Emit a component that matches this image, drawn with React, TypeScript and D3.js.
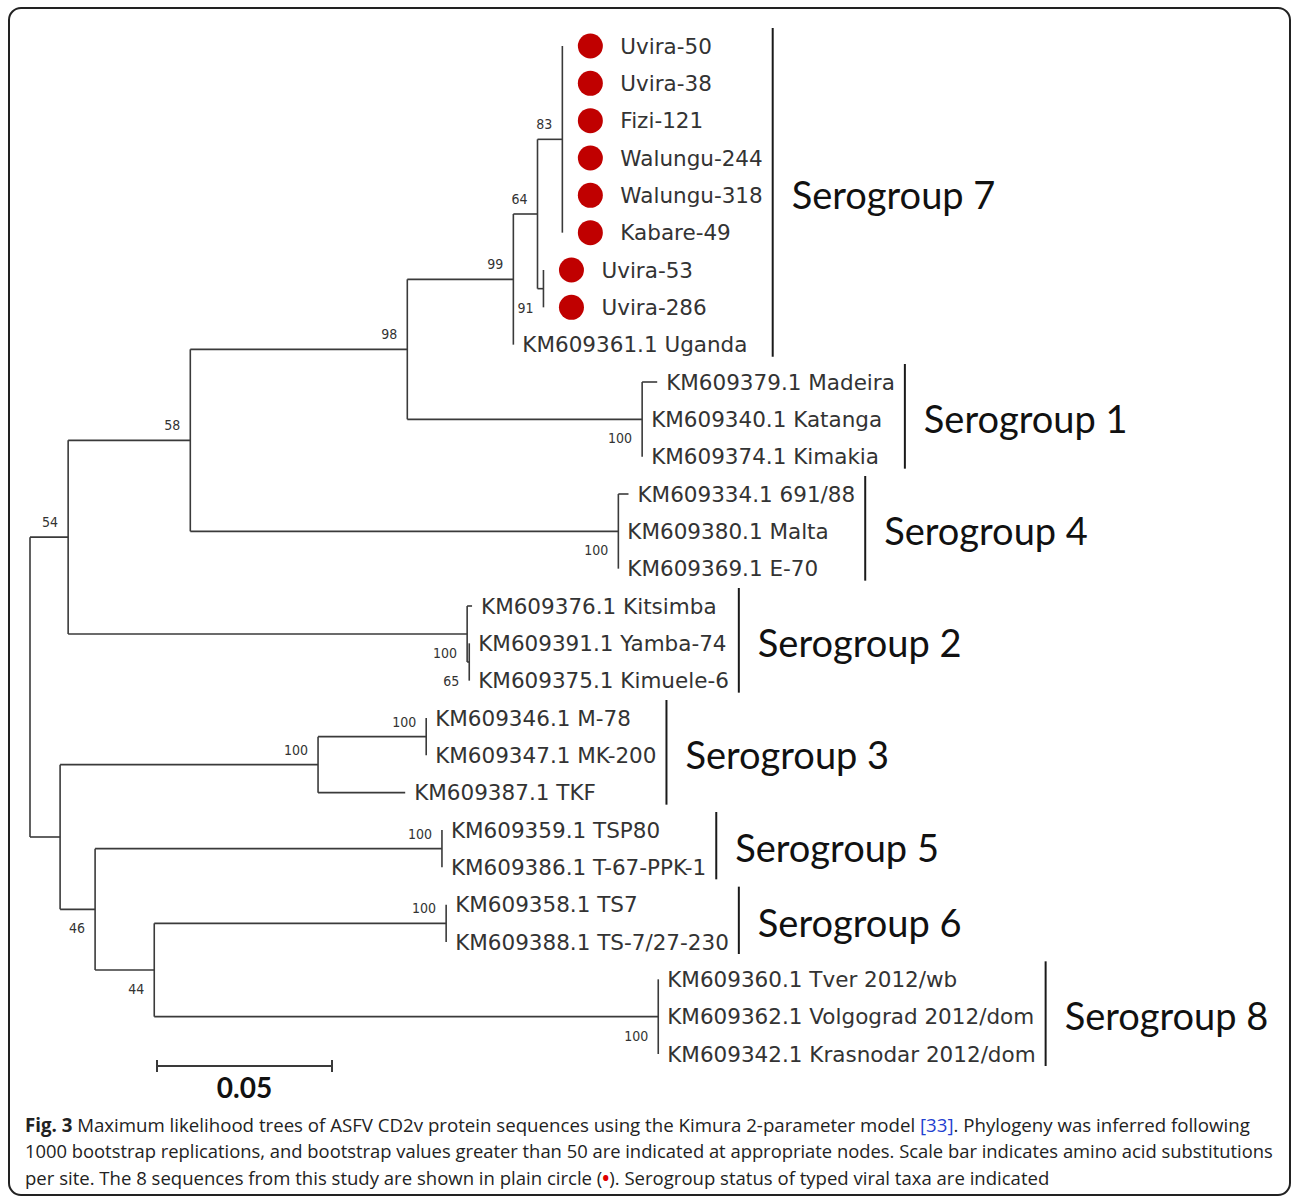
import * as d3 from "d3";
import React, { useEffect, useRef } from "react";

// internal nodes: [id, parent, branch length (subst/site), bootstrap]
const internalNodes: [string, string | null, number, number | null][] = [
  ["root", null, 0, null],
  ["n54", "root", 0.0109, 54],
  ["nLow", "root", 0.0086, null],
  ["n58", "n54", 0.0349, 58],
  ["sg2", "n54", 0.114, 100],
  ["n98", "n58", 0.062, 98],
  ["sg4", "n58", 0.1223, 100],
  ["n99", "n98", 0.0303, 99],
  ["sg1", "n98", 0.0671, 100],
  ["n64", "n99", 0.0069, 64],
  ["n83", "n64", 0.0071, 83],
  ["n91", "n64", 0.0017, 91],
  ["n65", "sg2", 0.0006, 65],
  ["sg3", "nLow", 0.0737, 100],
  ["n100b", "sg3", 0.0309, 100],
  ["n46", "nLow", 0.01, 46],
  ["sg5", "n46", 0.0991, 100],
  ["n44", "n46", 0.0169, 44],
  ["sg6", "n44", 0.0834, 100],
  ["sg8", "n44", 0.144, 100],
];

const leafNames = [
  "Uvira-50", "Uvira-38", "Fizi-121", "Walungu-244", "Walungu-318", "Kabare-49",
  "Uvira-53", "Uvira-286", "KM609361.1 Uganda",
  "KM609379.1 Madeira", "KM609340.1 Katanga", "KM609374.1 Kimakia",
  "KM609334.1 691/88", "KM609380.1 Malta", "KM609369.1 E-70",
  "KM609376.1 Kitsimba", "KM609391.1 Yamba-74", "KM609375.1 Kimuele-6",
  "KM609346.1 M-78", "KM609347.1 MK-200", "KM609387.1 TKF",
  "KM609359.1 TSP80", "KM609386.1 T-67-PPK-1",
  "KM609358.1 TS7", "KM609388.1 TS-7/27-230",
  "KM609360.1 Tver 2012/wb", "KM609362.1 Volgograd 2012/dom", "KM609342.1 Krasnodar 2012/dom",
];
const leafParents = [
  "n83", "n83", "n83", "n83", "n83", "n83", "n91", "n91", "n99",
  "sg1", "sg1", "sg1", "sg4", "sg4", "sg4", "sg2", "n65", "n65",
  "n100b", "n100b", "sg3", "sg5", "sg5", "sg6", "sg6", "sg8", "sg8", "sg8",
];
const leafLengths = [
  0, 0, 0, 0, 0, 0, 0, 0, 0,
  0.0043, 0, 0, 0.0029, 0, 0, 0.0014, 0, 0,
  0, 0, 0.0249, 0, 0, 0, 0, 0, 0, 0,
];
const studySamples = ["Uvira-50", "Uvira-38", "Fizi-121", "Walungu-244", "Walungu-318", "Kabare-49", "Uvira-53", "Uvira-286"];

const serogroupNames = ["Serogroup 7", "Serogroup 1", "Serogroup 4", "Serogroup 2", "Serogroup 3", "Serogroup 5", "Serogroup 6", "Serogroup 8"];
const serogroupSpans: [number, number][] = [[0, 8], [9, 11], [12, 14], [15, 17], [18, 20], [21, 22], [23, 24], [25, 27]];

const scaleBarValue = 0.05;

const captionLines = [
  [["Fig. 3", "bold"], [" Maximum likelihood trees of ASFV CD2v protein sequences using the Kimura 2-parameter model ", ""], ["[33]", "link"], [". Phylogeny was inferred following", ""]],
  [["1000 bootstrap replications, and bootstrap values greater than 50 are indicated at appropriate nodes. Scale bar indicates amino acid substitutions", ""]],
  [["per site. The 8 sequences from this study are shown in plain circle (", ""], ["\u2022", "dot"], ["). Serogroup status of typed viral taxa are indicated", ""]],
];
const captionRight = [1250, 1273, 1050];

interface Row { id: string; parent: string | null; len: number; boot: number | null }

const W = 1292;
const H = 1198;

const App: React.FC = () => {
  const svgRef = useRef<SVGSVGElement>(null);

  useEffect(() => {
    const svg = d3.select(svgRef.current);
    svg.selectAll("*").remove();

    svg.append("rect").attr("width", W).attr("height", H).attr("fill", "#fff");
    svg.append("rect")
      .attr("x", 9).attr("y", 8).attr("width", W - 11).attr("height", H - 11).attr("rx", 12)
      .attr("fill", "none").attr("stroke", "#222").attr("stroke-width", 2);

    const rows: Row[] = [
      ...internalNodes.map(([id, parent, len, boot]) => ({ id, parent, len, boot })),
      ...leafNames.map((name, i) => ({ id: name, parent: leafParents[i], len: leafLengths[i], boot: null })),
    ];
    const root = d3.stratify<Row>().id((d) => d.id).parentId((d) => d.parent)(rows);

    const xScale = d3.scaleLinear().domain([0, scaleBarValue]).range([30, 205]);
    const yScale = d3.scalePoint<string>().domain(leafNames).range([46, 1054]);

    const dist = new Map<string, number>();
    const ypos = new Map<string, number>();
    root.eachBefore((n) => dist.set(n.id!, n.parent ? dist.get(n.parent.id!)! + n.data.len : 0));
    root.eachAfter((n) => {
      if (!n.children) ypos.set(n.id!, yScale(n.id!)!);
      else {
        const ys = n.children.map((c) => ypos.get(c.id!)!);
        ypos.set(n.id!, (d3.min(ys)! + d3.max(ys)!) / 2);
      }
    });
    const X = (n: d3.HierarchyNode<Row>) => xScale(dist.get(n.id!)!);
    const Y = (n: d3.HierarchyNode<Row>) => ypos.get(n.id!)!;

    const tree = svg.append("g").attr("stroke", "#3a3a3a").attr("stroke-width", 1.6).attr("fill", "none");
    root.descendants().forEach((n) => {
      if (n.parent) {
        tree.append("line").attr("x1", X(n.parent)).attr("x2", X(n)).attr("y1", Y(n)).attr("y2", Y(n));
      }
      if (n.children) {
        const ys = n.children.map(Y);
        tree.append("line").attr("x1", X(n)).attr("x2", X(n)).attr("y1", d3.min(ys)!).attr("y2", d3.max(ys)!);
      }
    });

    // bootstrap values
    const boots = root.descendants().filter((n) => n.parent && n.data.boot != null);
    svg.append("g")
      .selectAll("text")
      .data(boots)
      .join("text")
      .attr("x", (n) => X(n) - 10)
      .attr("y", (n) => Y(n) + (Y(n) < Y(n.parent!) ? -10 : 24))
      .attr("text-anchor", "end")
      .attr("font-family", "'DejaVu Sans Condensed', 'DejaVu Sans', sans-serif")
      .attr("font-size", 14)
      .attr("fill", "#333")
      .text((n) => n.data.boot!);

    // leaves
    const leaves = root.leaves();
    const dots = leaves.filter((n) => studySamples.includes(n.id!));
    svg.append("g")
      .selectAll("circle")
      .data(dots)
      .join("circle")
      .attr("cx", (n) => X(n) + 28)
      .attr("cy", Y)
      .attr("r", 12.5)
      .attr("fill", "#c00000");

    const leafText = svg.append("g")
      .selectAll("text")
      .data(leaves)
      .join("text")
      .attr("x", (n) => X(n) + (studySamples.includes(n.id!) ? 58 : 9))
      .attr("y", Y)
      .attr("dy", "0.36em")
      .attr("font-family", "'DejaVu Sans', sans-serif")
      .attr("font-size", 21.5)
      .attr("fill", "#333")
      .text((n) => n.id!);

    const rightEdge = new Map<string, number>();
    leafText.each(function (n) {
      const b = (this as SVGTextElement).getBBox();
      rightEdge.set(n.id!, b.x + b.width);
    });

    // serogroup brackets
    const groups = svg.append("g");
    serogroupSpans.forEach(([a, b], i) => {
      const names = leafNames.slice(a, b + 1);
      const bx = d3.max(names, (nm) => rightEdge.get(nm)!)! + 10;
      const y0 = yScale(leafNames[a])!;
      const y1 = yScale(leafNames[b])!;
      groups.append("line")
        .attr("x1", bx).attr("x2", bx).attr("y1", y0 - 18).attr("y2", y1 + 12)
        .attr("stroke", "#1a1a1a").attr("stroke-width", 2);
      groups.append("text")
        .attr("x", bx + 19).attr("y", (y0 + y1) / 2).attr("dy", "0.35em")
        .attr("font-family", "Lato, 'Open Sans', sans-serif").attr("font-size", 38)
        .attr("fill", "#111")
        .text(serogroupNames[i]);
    });

    // scale bar
    const sbY = 1066;
    const sbX0 = 157;
    const sbX1 = sbX0 + xScale(scaleBarValue) - xScale(0);
    const sb = svg.append("g").attr("stroke", "#3a3a3a").attr("stroke-width", 2);
    sb.append("line").attr("x1", sbX0).attr("x2", sbX1).attr("y1", sbY).attr("y2", sbY);
    sb.append("line").attr("x1", sbX0).attr("x2", sbX0).attr("y1", sbY - 6).attr("y2", sbY + 6);
    sb.append("line").attr("x1", sbX1).attr("x2", sbX1).attr("y1", sbY - 6).attr("y2", sbY + 6);
    svg.append("text")
      .attr("x", (sbX0 + sbX1) / 2).attr("y", 1098).attr("text-anchor", "middle")
      .attr("font-family", "Lato, sans-serif").attr("font-weight", "bold").attr("font-size", 28)
      .attr("fill", "#111")
      .text(d3.format(".2f")(scaleBarValue));

    // caption
    captionLines.forEach((parts, i) => {
      const t = svg.append("text")
        .attr("x", 25).attr("y", 1132 + i * 26.5)
        .attr("font-family", "'Open Sans', sans-serif").attr("font-size", 19)
        .attr("fill", "#222");
      parts.forEach(([s, kind]) => {
        const sp = t.append("tspan").text(s);
        if (kind === "bold") sp.attr("font-weight", "bold");
        if (kind === "link") sp.attr("fill", "#1f3fd0");
        if (kind === "dot") sp.attr("fill", "#e00000").attr("font-weight", "bold");
      });
      const w = (t.node() as SVGTextElement).getBBox().width;
      const k = (captionRight[i] - 25) / w;
      t.attr("transform", `translate(25,0) scale(${k},1) translate(-25,0)`);
    });
  }, []);

  return (
    <svg
      ref={svgRef}
      width={W}
      height={H}
      style={{ position: "absolute", left: 0, top: 0, display: "block" }}
    ></svg>
  );
};

export default App;
